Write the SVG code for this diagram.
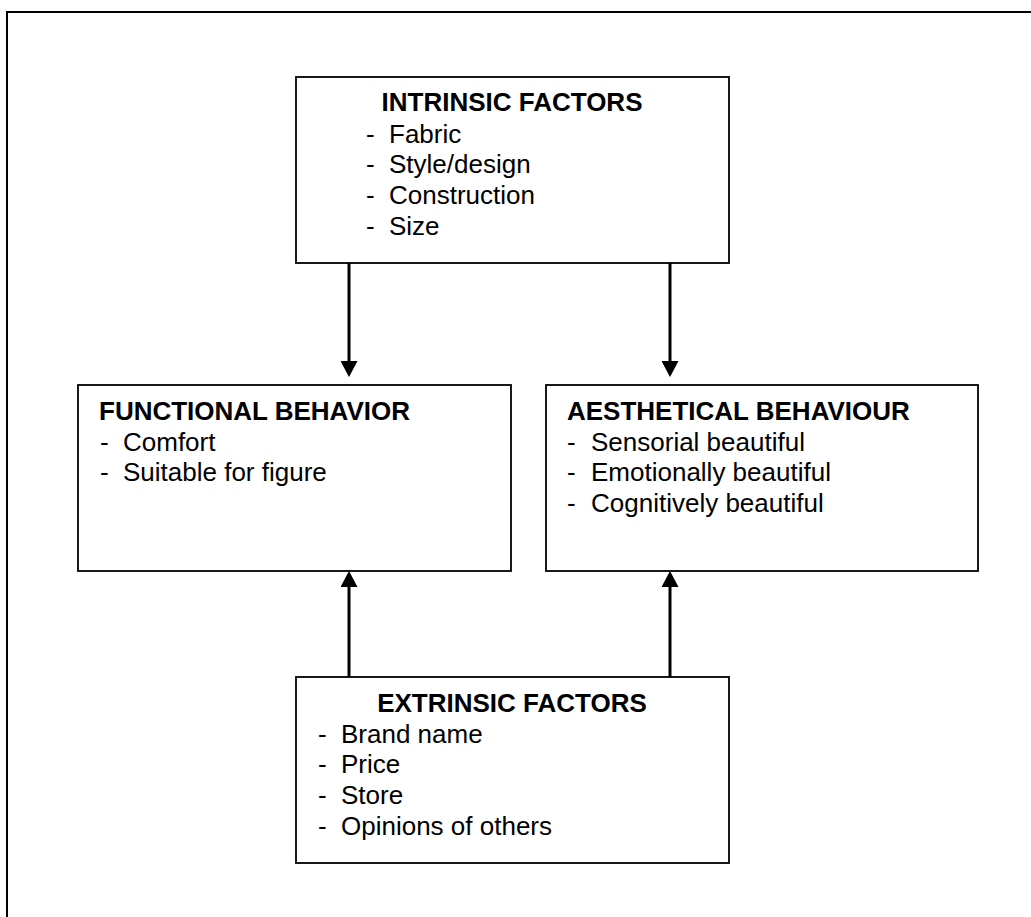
<svg xmlns="http://www.w3.org/2000/svg" width="1031" height="917" viewBox="0 0 1031 917">
  <style>
    .box { fill: #fff; stroke: #000; stroke-width: 1.8; }
    .frame { fill: none; stroke: #000; stroke-width: 2; }
    .t { font-family: "Liberation Sans", Arial, sans-serif; font-size: 26px; fill: #000; }
    .title { font-weight: bold; }
    .conn { stroke: #000; stroke-width: 3; fill: none; marker-end: url(#arrow); }
  </style>
  <defs>
    <marker id="arrow" viewBox="0 0 16 17" refX="8" refY="8.5" markerWidth="16" markerHeight="17" markerUnits="userSpaceOnUse" orient="auto">
      <path d="M0,0 L16,8.5 L0,17 Z" fill="#000"/>
    </marker>
  </defs>
  <rect width="1031" height="917" fill="#fff"/>
  <rect class="frame" x="7" y="12" width="1040" height="930"/>

  <g id="connectors">
    <line class="conn" x1="349" y1="263" x2="349" y2="369"/>
    <line class="conn" x1="670" y1="263" x2="670" y2="369"/>
    <line class="conn" x1="349" y1="677" x2="349" y2="579"/>
    <line class="conn" x1="670" y1="677" x2="670" y2="579"/>
  </g>

  <g id="intrinsic">
    <rect class="box" x="296" y="77" width="433" height="186"/>
    <text class="t title" x="512" y="111" text-anchor="middle">INTRINSIC FACTORS</text>
    <text class="t" x="366" y="143">-</text><text class="t" x="389" y="143">Fabric</text>
    <text class="t" x="366" y="173">-</text><text class="t" x="389" y="173">Style/design</text>
    <text class="t" x="366" y="204">-</text><text class="t" x="389" y="204">Construction</text>
    <text class="t" x="366" y="235">-</text><text class="t" x="389" y="235">Size</text>
  </g>

  <g id="functional">
    <rect class="box" x="78" y="385" width="433" height="186"/>
    <text class="t title" x="99" y="420">FUNCTIONAL BEHAVIOR</text>
    <text class="t" x="100" y="451">-</text><text class="t" x="123" y="451">Comfort</text>
    <text class="t" x="100" y="481">-</text><text class="t" x="123" y="481">Suitable for figure</text>
  </g>

  <g id="aesthetical">
    <rect class="box" x="546" y="385" width="432" height="186"/>
    <text class="t title" x="567" y="420">AESTHETICAL BEHAVIOUR</text>
    <text class="t" x="567" y="451">-</text><text class="t" x="591" y="451">Sensorial beautiful</text>
    <text class="t" x="567" y="481">-</text><text class="t" x="591" y="481">Emotionally beautiful</text>
    <text class="t" x="567" y="512">-</text><text class="t" x="591" y="512">Cognitively beautiful</text>
  </g>

  <g id="extrinsic">
    <rect class="box" x="296" y="677" width="433" height="186"/>
    <text class="t title" x="512" y="712" text-anchor="middle">EXTRINSIC FACTORS</text>
    <text class="t" x="318" y="743">-</text><text class="t" x="341" y="743">Brand name</text>
    <text class="t" x="318" y="773">-</text><text class="t" x="341" y="773">Price</text>
    <text class="t" x="318" y="804">-</text><text class="t" x="341" y="804">Store</text>
    <text class="t" x="318" y="835">-</text><text class="t" x="341" y="835">Opinions of others</text>
  </g>
</svg>
